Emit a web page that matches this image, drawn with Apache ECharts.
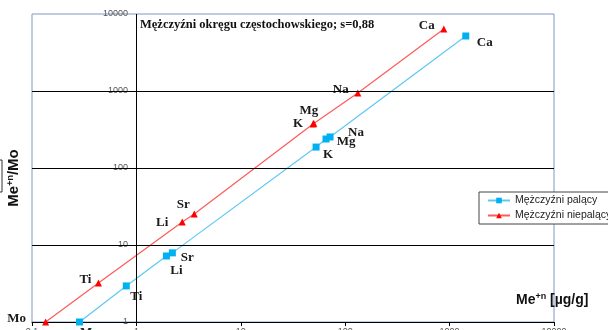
<!DOCTYPE html>
<html><head><meta charset="utf-8">
<script src="https://cdn.jsdelivr.net/npm/echarts@6/dist/echarts.min.js"></script>
<style>html,body{margin:0;padding:0;background:#fff}#c{width:608px;height:330px}</style>
</head><body><div id="c"></div>
<script>
const elements = ['Mo','Ti','Li','Sr','K','Mg','Na','Ca'];
const smokersX = [0.285, 0.80, 1.94, 2.21, 52.6, 65.5, 71.6, 1429];
const smokersY = [1, 2.94, 7.2, 7.9, 187, 238, 253, 5180];
const nonSmokersX = [0.135, 0.433, 2.75, 3.58, 49.2, 50, 132, 880];
const nonSmokersY = [1, 3.21, 19.9, 25.3, 373, 382, 942, 6390];
const xTicks = [0.1, 1, 10, 100, 1000, 10000];
const yTicks = [1, 10, 100, 1000, 10000];
const yGridLines = [10, 100, 1000];
const seriesNames = ['Mężczyźni palący', 'Mężczyźni niepalący'];
const titleText = 'Mężczyźni okręgu częstochowskiego; s=0,88';

// label offsets (style only)
const smokersLabelOffset = [[10,11],[10,11],[10,15],[15,5],[12,8],[20,3],[26,-4],[19,7]];
const nonSmokersLabelOffset = [[-29,-3],[-13,-3],[-20,1],[-11,-9],[-15,0],[-5,-13],[-17,-3],[-17,-3]];

const labelStyle = {fontFamily:'Liberation Serif', fontWeight:'bold', fontSize:13, color:'#1a1a1a'};
function build(xs, ys, offs){
  return xs.map((x,i)=>({value:[x, ys[i]], name:elements[i],
    label:{show:true, position:'inside', offset:offs[i], formatter:elements[i], ...labelStyle}}));
}
function fmt(v){
  const t = xTicks.concat(yTicks).find(k=>Math.abs(k-v)/k<1e-6);
  return String(t!==undefined?t:v).replace('.',',');
}
const frame = '#7f97c4';
const chart = echarts.init(document.getElementById('c'));
chart.setOption({
  animation:false,
  grid:{left:32, right:54, top:14, bottom:8, show:true, borderColor:frame, borderWidth:1,
    containLabel:false, outerBoundsMode:'none'},
  xAxis:{type:'log', logBase:10, min:0.1, max:10000,
    axisLine:{show:true, lineStyle:{color:'#000', width:1}},
    axisTick:{show:true, length:4, lineStyle:{color:'#000'}},
    minorTick:{show:false}, splitLine:{show:false},
    axisLabel:{fontSize:9, color:'#555', margin:5, fontFamily:'Liberation Sans', formatter:fmt}},
  yAxis:{type:'log', logBase:10, min:1, max:10000,
    axisLine:{show:false}, axisTick:{show:false}, splitLine:{show:false},
    axisLabel:{inside:true, margin:96, align:'right', fontSize:9, color:'#555', fontFamily:'Liberation Sans', formatter:fmt}},
  legend:{left:479, top:192, orient:'vertical', padding:[3,30,3,8], itemGap:4,
    borderColor:'#444', borderWidth:1, backgroundColor:'#fff', itemWidth:22, itemHeight:7,
    textStyle:{fontSize:10.5, fontFamily:'Liberation Sans', color:'#222'},
    data:seriesNames},
  series:[
    {name:seriesNames[0], type:'line', data:build(smokersX, smokersY, smokersLabelOffset),
     symbol:'rect', symbolSize:7, itemStyle:{color:'#00b0f0'}, lineStyle:{color:'#5ec8f4', width:1.2},
     markLine:{silent:true, symbol:'none', label:{show:false}, lineStyle:{color:'#000', type:'solid', width:1},
       data:[{xAxis:1}].concat(yGridLines.map(v=>({yAxis:v})))}},
    {name:seriesNames[1], type:'line', data:build(nonSmokersX, nonSmokersY, nonSmokersLabelOffset),
     symbol:'triangle', symbolSize:7, itemStyle:{color:'#ff0000'}, lineStyle:{color:'#ff5a5a', width:1.2}}
  ],
  graphic:[
    {type:'text', left:140, top:18, style:{text:titleText, font:'bold 12.5px "Liberation Serif"', fill:'#111'}},
    {type:'text', x:14, y:178, rotation:Math.PI/2, style:{
      text:'Me{s|+n}/Mo', align:'center', verticalAlign:'middle', font:'bold 15px "Liberation Sans"', fill:'#111',
      rich:{s:{font:'bold 9px "Liberation Sans"', fill:'#111', verticalAlign:'top', padding:[0,0,6,0]}}}},
    {type:'text', x:516, y:300, style:{
      text:'Me{s|+n} [µg/g]', verticalAlign:'middle', font:'bold 14px "Liberation Sans"', fill:'#111',
      rich:{s:{font:'bold 9px "Liberation Sans"', fill:'#111', padding:[0,0,6,0]}}}},
    {type:'rect', shape:{x:-20, y:160, width:22, height:32}, style:{fill:'none', stroke:'#333', lineWidth:1}}
  ]
});
</script></body></html>
